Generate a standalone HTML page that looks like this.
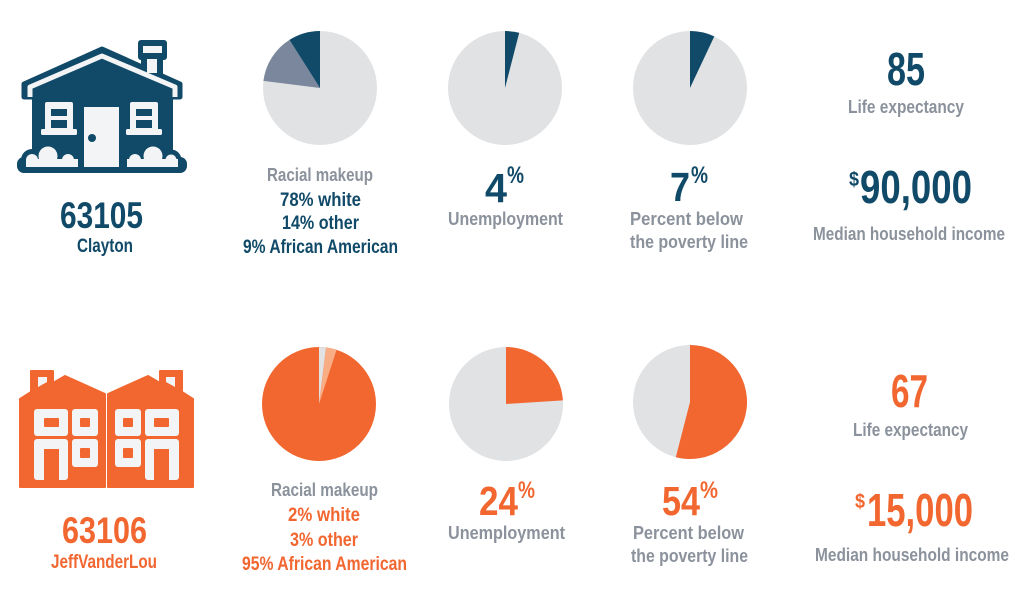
<!DOCTYPE html>
<html>
<head>
<meta charset="utf-8">
<style>
html,body{margin:0;padding:0;background:#ffffff;}
svg{display:block;}
text{font-family:"Liberation Sans",Arial,sans-serif;font-weight:bold;}
.b{fill:#104a68;}
.o{fill:#f26630;}
.g{fill:#8b929c;}
</style>
</head>
<body>
<svg width="1024" height="605" viewBox="0 0 1024 605" xmlns="http://www.w3.org/2000/svg">
<rect x="0" y="0" width="1024" height="605" fill="#ffffff"/>

<!-- ===== House 1 (blue) ===== -->
<g fill="#104a68" stroke="none">
  <rect x="138" y="40" width="29" height="20" rx="3"/>
  <rect x="141" y="55" width="22" height="24"/>
  <polygon points="24,84 102,49 180,84 180,97 24,97" stroke="#104a68" stroke-width="5" stroke-linejoin="round"/>
  <rect x="32" y="90" width="141" height="75"/>
  <rect x="17" y="157" width="170" height="16" rx="7"/>
  <circle cx="48" cy="156" r="14.5"/>
  <circle cx="32" cy="160" r="11"/>
  <circle cx="68" cy="160" r="11"/>
  <circle cx="153" cy="156" r="14.5"/>
  <circle cx="135" cy="160" r="11"/>
  <circle cx="171" cy="160" r="10.5"/>
</g>
<g fill="#f3f4f6">
  <rect x="143" y="46" width="19" height="7"/>
  <rect x="147" y="59" width="10" height="14"/>
  <rect x="26" y="159" width="52" height="8"/>
  <circle cx="48" cy="156" r="9.5"/>
  <circle cx="32" cy="160" r="6"/>
  <circle cx="68" cy="160" r="6"/>
  <rect x="127" y="159" width="51" height="8"/>
  <circle cx="153" cy="156" r="9.5"/>
  <circle cx="135" cy="160" r="6"/>
  <circle cx="171" cy="160" r="5.5"/>
  <rect x="84" y="107" width="35" height="60"/>
  <rect x="45" y="102" width="28" height="30" rx="2"/>
  <rect x="41" y="129" width="36" height="6" rx="1.5"/>
  <rect x="130" y="102" width="28" height="30" rx="2"/>
  <rect x="126" y="129" width="36" height="6" rx="1.5"/>
</g>
<polyline points="30,97 30,87 102,56 175,87 175,97" fill="none" stroke="#f3f4f6" stroke-width="5" stroke-linejoin="round"/>
<g fill="#104a68">
  <circle cx="92" cy="138" r="4"/>
  <rect x="51" y="109" width="16" height="7"/>
  <rect x="51" y="120" width="16" height="8"/>
  <rect x="136" y="109" width="16" height="7"/>
  <rect x="136" y="120" width="16" height="8"/>
</g>

<!-- ===== House 2 (orange) ===== -->
<g>
  <path d="M20,487 L20,399 L31,392 L31,371 L53,371 L53,383 L65,376 L105,394 L105,487 Z" fill="#f26630" stroke="#f26630" stroke-width="2" stroke-linejoin="round"/>
  <polygon points="38,377 47,377 47,382 38,387" fill="#f3f4f6"/>
  <rect x="34" y="409" width="34" height="27" rx="3" fill="#f3f4f6"/>
  <rect x="44" y="418" width="15" height="9" rx="1" fill="#f26630"/>
  <rect x="72" y="409" width="26" height="27" rx="3" fill="#f3f4f6"/>
  <rect x="80" y="418" width="10" height="9" rx="1" fill="#f26630"/>
  <rect x="34" y="439" width="34" height="41" rx="3" fill="#f3f4f6"/>
  <rect x="44" y="449" width="15" height="31" fill="#f26630"/>
  <rect x="72" y="439" width="26" height="28" rx="3" fill="#f3f4f6"/>
  <rect x="80" y="448" width="10" height="10" rx="1" fill="#f26630"/>
</g>
<g transform="translate(213,0) scale(-1,1)">
  <path d="M20,487 L20,399 L31,392 L31,371 L53,371 L53,383 L65,376 L105,394 L105,487 Z" fill="#f26630" stroke="#f26630" stroke-width="2" stroke-linejoin="round"/>
  <polygon points="38,377 47,377 47,382 38,387" fill="#f3f4f6"/>
  <rect x="34" y="409" width="34" height="27" rx="3" fill="#f3f4f6"/>
  <rect x="44" y="418" width="15" height="9" rx="1" fill="#f26630"/>
  <rect x="72" y="409" width="26" height="27" rx="3" fill="#f3f4f6"/>
  <rect x="80" y="418" width="10" height="9" rx="1" fill="#f26630"/>
  <rect x="34" y="439" width="34" height="41" rx="3" fill="#f3f4f6"/>
  <rect x="44" y="449" width="15" height="31" fill="#f26630"/>
  <rect x="72" y="439" width="26" height="28" rx="3" fill="#f3f4f6"/>
  <rect x="80" y="448" width="10" height="10" rx="1" fill="#f26630"/>
</g>

<!-- ===== Pies top ===== -->
<circle cx="320" cy="88" r="57" fill="#e1e2e4"/>
<path d="M320,88 L263.4,80.9 A57,57 0 0 1 289.5,39.9 Z" fill="#7b879c"/>
<path d="M320,88 L289.5,39.9 A57,57 0 0 1 320,31 Z" fill="#104a68"/>

<circle cx="505" cy="88" r="57" fill="#e1e2e4"/>
<path d="M505,88 L505,31 A57,57 0 0 1 519.2,32.8 Z" fill="#104a68"/>

<circle cx="690" cy="88" r="57" fill="#e1e2e4"/>
<path d="M690,88 L690,31 A57,57 0 0 1 714.3,36.4 Z" fill="#104a68"/>

<!-- ===== Pies bottom ===== -->
<circle cx="319" cy="404" r="57" fill="#f26630"/>
<path d="M319,404 L319,347 A57,57 0 0 1 326.1,347.5 Z" fill="#e1e2e4"/>
<path d="M319,404 L326.1,347.5 A57,57 0 0 1 336.6,349.8 Z" fill="#f8ad85"/>

<circle cx="506" cy="404" r="57" fill="#e1e2e4"/>
<path d="M506,404 L506,347 A57,57 0 0 1 562.9,400.4 Z" fill="#f26630"/>

<circle cx="690" cy="402" r="57" fill="#e1e2e4"/>
<path d="M690,402 L690,345 A57,57 0 1 1 675.8,457.2 Z" fill="#f26630"/>

<!-- ===== Text top ===== -->
<text class="b" x="60" y="228" font-size="37" textLength="83" lengthAdjust="spacingAndGlyphs">63105</text>
<text class="b" x="77" y="252" font-size="19" textLength="56" lengthAdjust="spacingAndGlyphs">Clayton</text>

<text class="g" x="267" y="181" font-size="18.5" textLength="106" lengthAdjust="spacingAndGlyphs">Racial makeup</text>
<text class="b" x="280" y="206" font-size="19" textLength="81" lengthAdjust="spacingAndGlyphs">78% white</text>
<text class="b" x="282" y="229" font-size="19" textLength="77" lengthAdjust="spacingAndGlyphs">14% other</text>
<text class="b" x="243" y="253" font-size="19" textLength="155" lengthAdjust="spacingAndGlyphs">9% African American</text>

<text class="b" x="485" y="202" font-size="41" textLength="22" lengthAdjust="spacingAndGlyphs">4</text>
<text class="b" x="507" y="183" font-size="24" textLength="17" lengthAdjust="spacingAndGlyphs">%</text>
<text class="g" x="448" y="225" font-size="18" textLength="115" lengthAdjust="spacingAndGlyphs">Unemployment</text>

<text class="b" x="670" y="201" font-size="41" textLength="20" lengthAdjust="spacingAndGlyphs">7</text>
<text class="b" x="691" y="183" font-size="24" textLength="17" lengthAdjust="spacingAndGlyphs">%</text>
<text class="g" x="630" y="225" font-size="18" textLength="113" lengthAdjust="spacingAndGlyphs">Percent below</text>
<text class="g" x="630" y="248" font-size="18" textLength="118" lengthAdjust="spacingAndGlyphs">the poverty line</text>

<text class="b" x="887" y="85" font-size="46" textLength="38" lengthAdjust="spacingAndGlyphs">85</text>
<text class="g" x="848" y="113" font-size="18" textLength="116" lengthAdjust="spacingAndGlyphs">Life expectancy</text>
<text class="b" x="849" y="186" font-size="20" textLength="10" lengthAdjust="spacingAndGlyphs">$</text>
<text class="b" x="860" y="203" font-size="46" textLength="112" lengthAdjust="spacingAndGlyphs">90,000</text>
<text class="g" x="813" y="240" font-size="18" textLength="192" lengthAdjust="spacingAndGlyphs">Median household income</text>

<!-- ===== Text bottom ===== -->
<text class="o" x="62" y="543" font-size="37" textLength="85" lengthAdjust="spacingAndGlyphs">63106</text>
<text class="o" x="51" y="568" font-size="19" textLength="106" lengthAdjust="spacingAndGlyphs">JeffVanderLou</text>

<text class="g" x="271" y="496" font-size="18.5" textLength="107" lengthAdjust="spacingAndGlyphs">Racial makeup</text>
<text class="o" x="288" y="521" font-size="19" textLength="72" lengthAdjust="spacingAndGlyphs">2% white</text>
<text class="o" x="290" y="546" font-size="19" textLength="68" lengthAdjust="spacingAndGlyphs">3% other</text>
<text class="o" x="242" y="570" font-size="19" textLength="165" lengthAdjust="spacingAndGlyphs">95% African American</text>

<text class="o" x="479" y="515" font-size="41" textLength="39" lengthAdjust="spacingAndGlyphs">24</text>
<text class="o" x="518" y="498" font-size="24" textLength="17" lengthAdjust="spacingAndGlyphs">%</text>
<text class="g" x="448" y="539" font-size="18" textLength="117" lengthAdjust="spacingAndGlyphs">Unemployment</text>

<text class="o" x="662" y="515" font-size="41" textLength="38" lengthAdjust="spacingAndGlyphs">54</text>
<text class="o" x="700" y="498" font-size="24" textLength="18" lengthAdjust="spacingAndGlyphs">%</text>
<text class="g" x="633" y="539" font-size="18" textLength="111" lengthAdjust="spacingAndGlyphs">Percent below</text>
<text class="g" x="631" y="562" font-size="18" textLength="117" lengthAdjust="spacingAndGlyphs">the poverty line</text>

<text class="o" x="891" y="407" font-size="46" textLength="37" lengthAdjust="spacingAndGlyphs">67</text>
<text class="g" x="853" y="436" font-size="18" textLength="115" lengthAdjust="spacingAndGlyphs">Life expectancy</text>
<text class="o" x="855" y="508" font-size="20" textLength="10" lengthAdjust="spacingAndGlyphs">$</text>
<text class="o" x="867" y="526" font-size="46" textLength="106" lengthAdjust="spacingAndGlyphs">15,000</text>
<text class="g" x="815" y="561" font-size="18" textLength="194" lengthAdjust="spacingAndGlyphs">Median household income</text>
</svg>
</body>
</html>
